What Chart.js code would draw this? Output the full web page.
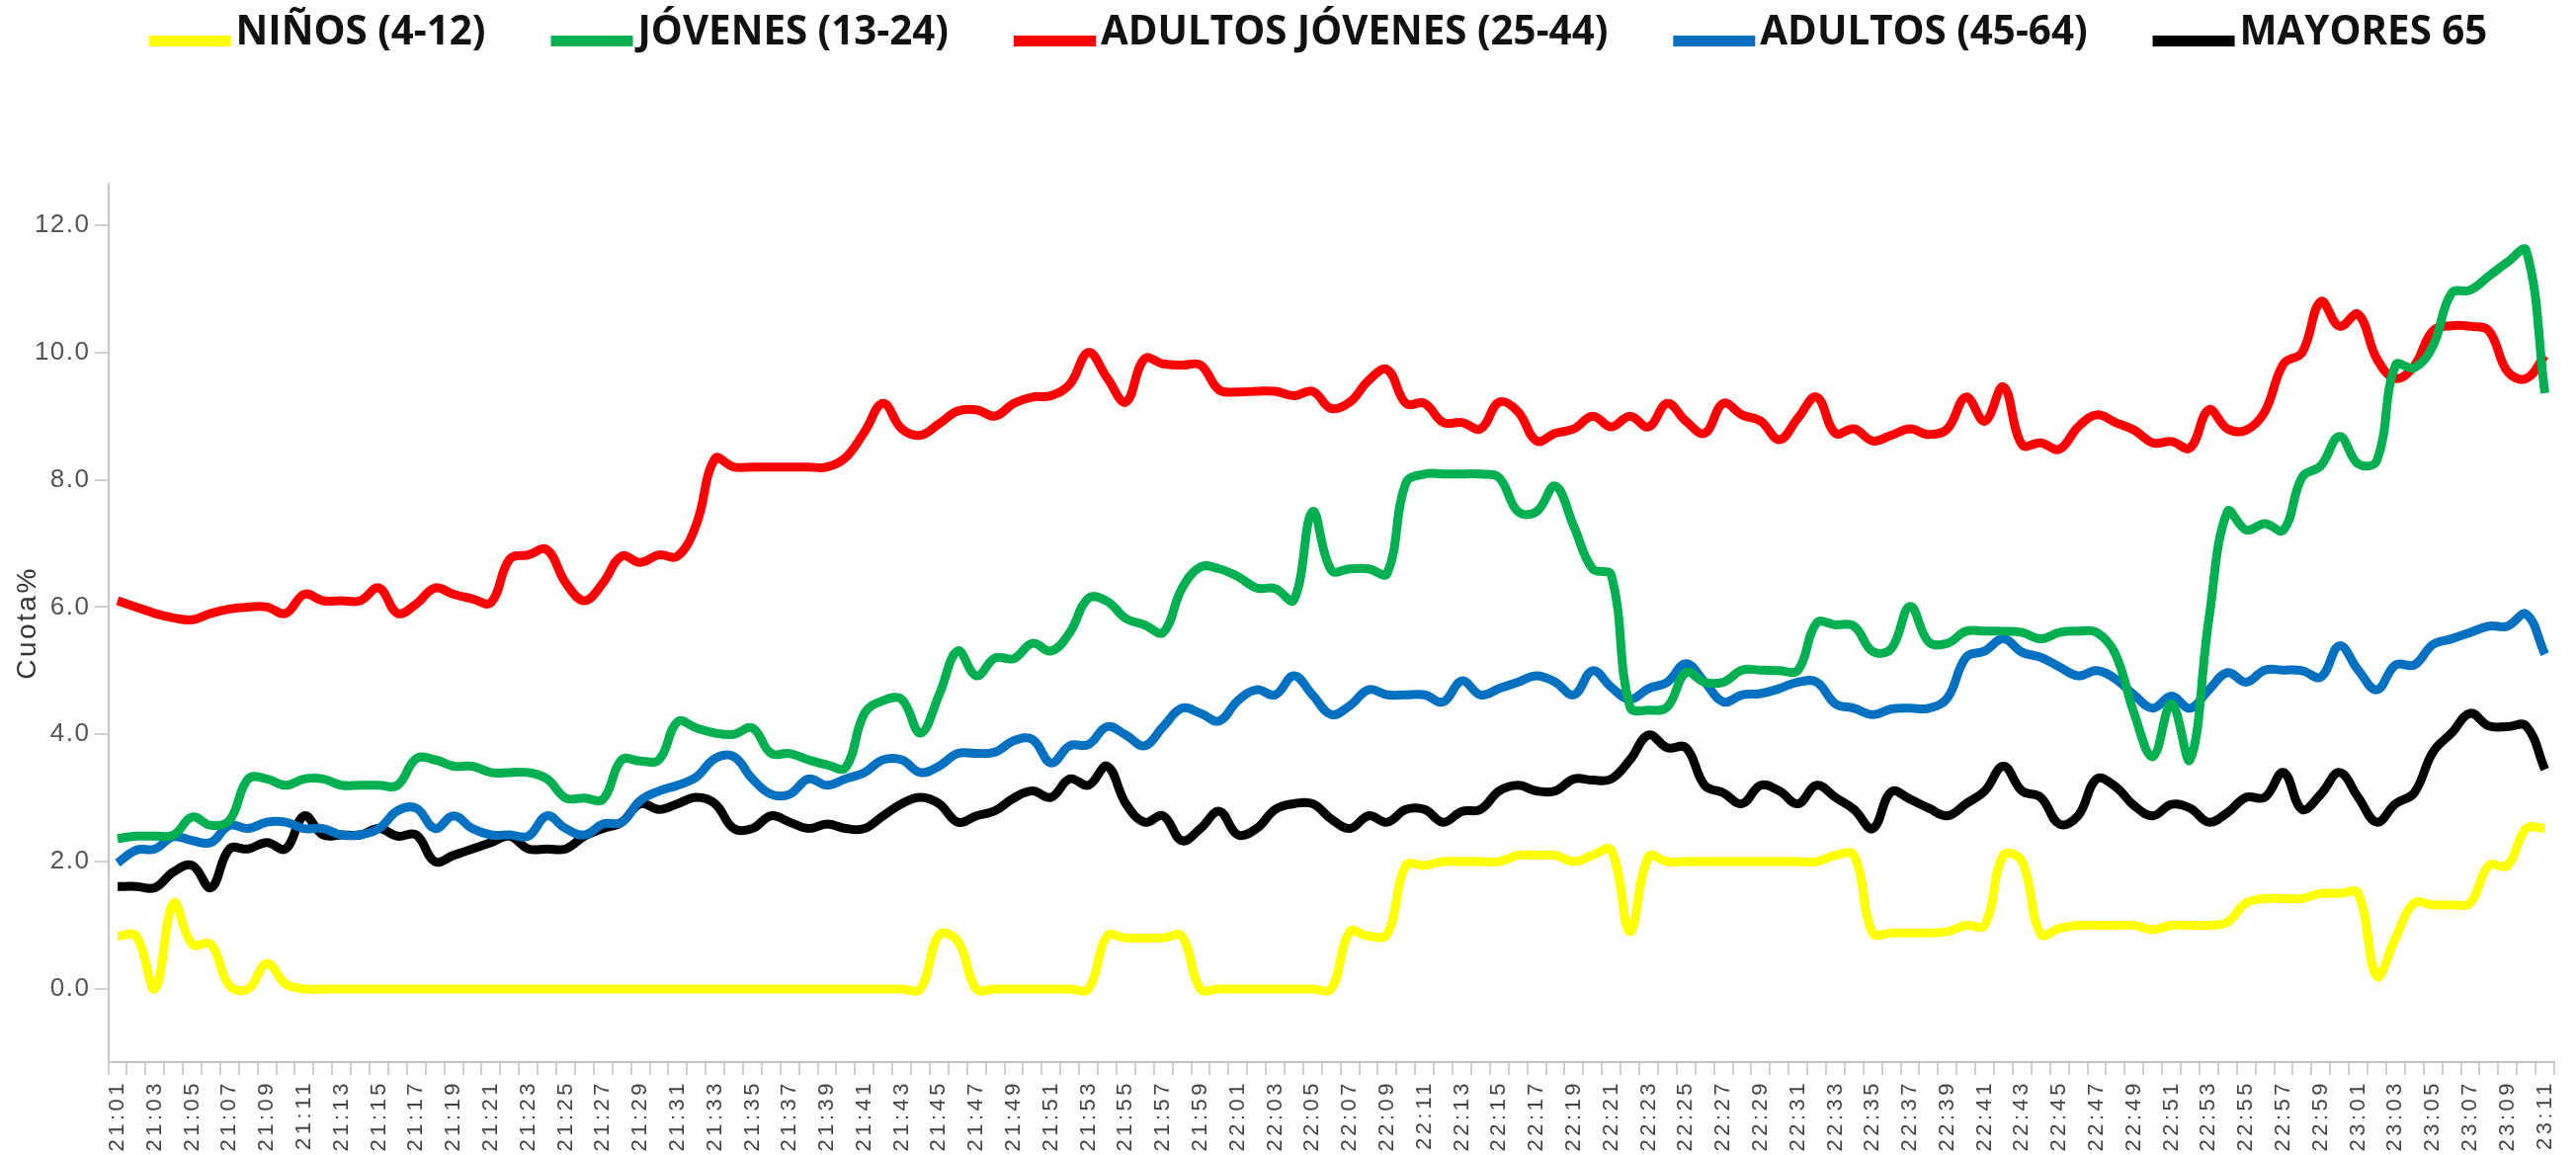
<!DOCTYPE html>
<html>
<head>
<meta charset="utf-8">
<script src="https://cdn.jsdelivr.net/npm/chart.js@4.4.1/dist/chart.umd.min.js"></script>
<style>
  html, body { margin: 0; padding: 0; background: #ffffff; }
  canvas { display: block; }
</style>
</head>
<body>
<canvas id="c" width="2607" height="1169"></canvas>
<script>
const categories = [
  "21:01","21:02","21:03","21:04","21:05","21:06","21:07","21:08","21:09","21:10",
  "21:11","21:12","21:13","21:14","21:15","21:16","21:17","21:18","21:19","21:20",
  "21:21","21:22","21:23","21:24","21:25","21:26","21:27","21:28","21:29","21:30",
  "21:31","21:32","21:33","21:34","21:35","21:36","21:37","21:38","21:39","21:40",
  "21:41","21:42","21:43","21:44","21:45","21:46","21:47","21:48","21:49","21:50",
  "21:51","21:52","21:53","21:54","21:55","21:56","21:57","21:58","21:59","22:00",
  "22:01","22:02","22:03","22:04","22:05","22:06","22:07","22:08","22:09","22:10",
  "22:11","22:12","22:13","22:14","22:15","22:16","22:17","22:18","22:19","22:20",
  "22:21","22:22","22:23","22:24","22:25","22:26","22:27","22:28","22:29","22:30",
  "22:31","22:32","22:33","22:34","22:35","22:36","22:37","22:38","22:39","22:40",
  "22:41","22:42","22:43","22:44","22:45","22:46","22:47","22:48","22:49","22:50",
  "22:51","22:52","22:53","22:54","22:55","22:56","22:57","22:58","22:59","23:00",
  "23:01","23:02","23:03","23:04","23:05","23:06","23:07","23:08","23:09","23:10",
  "23:11"
];

const seriesNames = ["NIÑOS (4-12)", "JÓVENES (13-24)", "ADULTOS JÓVENES (25-44)", "ADULTOS (45-64)", "MAYORES 65"];

const ninos = [
  0.83,0.83,0.0,1.35,0.7,0.7,0.05,0.0,0.4,0.08,
  0,0,0,0,0,0,0,0,0,0,
  0,0,0,0,0,0,0,0,0,0,
  0,0,0,0,0,0,0,0,0,0,
  0,0,0,0,0.85,0.75,0,0,0,0,
  0,0,0,0.83,0.8,0.8,0.8,0.83,0,0,
  0,0,0,0,0,0,0.9,0.83,0.86,1.94,
  1.94,2.0,2.0,2.0,2.0,2.1,2.1,2.1,2.0,2.1,
  2.18,0.9,2.08,2.0,2.0,2.0,2.0,2.0,2.0,2.0,
  2.0,2.0,2.1,2.1,0.88,0.88,0.88,0.88,0.9,1.0,
  1.0,2.1,2.0,0.86,0.95,1.0,1.0,1.0,1.0,0.93,
  1.0,1.0,1.0,1.05,1.35,1.42,1.42,1.42,1.5,1.5,
  1.5,0.2,0.8,1.35,1.32,1.32,1.35,1.94,1.94,2.52,2.52
];

const jovenes = [
  2.36,2.4,2.4,2.42,2.7,2.57,2.65,3.3,3.3,3.2,
  3.3,3.3,3.2,3.2,3.2,3.2,3.62,3.6,3.5,3.5,
  3.4,3.4,3.4,3.3,3.0,3.0,2.98,3.6,3.58,3.6,
  4.2,4.1,4.02,4.0,4.1,3.7,3.7,3.6,3.52,3.48,
  4.33,4.53,4.55,4.02,4.62,5.31,4.92,5.2,5.19,5.43,
  5.31,5.6,6.14,6.09,5.82,5.72,5.6,6.29,6.63,6.6,
  6.48,6.3,6.29,6.11,7.5,6.58,6.6,6.6,6.53,7.95,
  8.09,8.09,8.09,8.09,8.03,7.5,7.5,7.9,7.26,6.6,
  6.5,4.43,4.38,4.43,4.97,4.82,4.82,5.01,5.01,5.0,
  5.01,5.75,5.72,5.7,5.3,5.35,6.01,5.45,5.43,5.62,
  5.62,5.62,5.6,5.5,5.6,5.62,5.6,5.26,4.33,3.65,
  4.48,3.6,5.8,7.5,7.21,7.31,7.21,8.04,8.22,8.68,
  8.25,8.3,9.8,9.76,10.1,10.93,10.98,11.2,11.42,11.6,9.36
];

const adultosJovenes = [
  6.1,6.0,5.9,5.83,5.8,5.9,5.97,6.0,6.0,5.9,
  6.2,6.1,6.1,6.1,6.3,5.9,6.05,6.3,6.2,6.13,
  6.07,6.75,6.82,6.9,6.38,6.1,6.38,6.8,6.7,6.82,
  6.8,7.3,8.33,8.2,8.2,8.2,8.2,8.2,8.2,8.35,
  8.75,9.2,8.8,8.7,8.88,9.08,9.1,9.0,9.2,9.3,
  9.32,9.5,10.0,9.6,9.22,9.9,9.82,9.8,9.8,9.41,
  9.38,9.39,9.39,9.32,9.39,9.12,9.22,9.56,9.73,9.2,
  9.2,8.9,8.9,8.8,9.22,9.07,8.61,8.73,8.8,9.0,
  8.83,9.0,8.83,9.2,8.92,8.73,9.2,9.02,8.92,8.63,
  8.97,9.3,8.73,8.8,8.61,8.7,8.8,8.71,8.8,9.3,
  8.92,9.46,8.55,8.58,8.48,8.83,9.02,8.9,8.78,8.58,
  8.6,8.5,9.1,8.8,8.78,9.07,9.82,10.0,10.8,10.41,
  10.6,9.9,9.59,9.79,10.34,10.42,10.41,10.34,9.7,9.59,9.95
];

const adultos = [
  1.98,2.18,2.2,2.39,2.33,2.3,2.57,2.52,2.62,2.62,
  2.52,2.52,2.42,2.42,2.52,2.8,2.84,2.52,2.72,2.52,
  2.42,2.42,2.4,2.72,2.52,2.42,2.59,2.62,2.96,3.11,
  3.2,3.33,3.62,3.65,3.3,3.06,3.06,3.3,3.2,3.3,
  3.4,3.6,3.6,3.4,3.5,3.7,3.7,3.72,3.9,3.92,
  3.55,3.82,3.84,4.12,3.99,3.82,4.12,4.41,4.33,4.21,
  4.53,4.7,4.62,4.92,4.62,4.31,4.45,4.7,4.62,4.62,
  4.62,4.51,4.84,4.62,4.72,4.82,4.92,4.82,4.62,5.0,
  4.74,4.55,4.72,4.82,5.11,4.82,4.51,4.62,4.64,4.72,
  4.82,4.82,4.48,4.41,4.31,4.4,4.41,4.41,4.57,5.21,
  5.31,5.5,5.29,5.21,5.06,4.92,5.0,4.87,4.62,4.41,
  4.6,4.41,4.7,4.97,4.82,5.01,5.01,5.0,4.9,5.39,
  5.01,4.7,5.09,5.09,5.41,5.5,5.6,5.7,5.7,5.89,5.26
];

const mayores = [
  1.61,1.61,1.59,1.84,1.94,1.59,2.2,2.2,2.3,2.2,
  2.72,2.42,2.42,2.42,2.52,2.4,2.42,2.0,2.1,2.2,
  2.3,2.4,2.2,2.2,2.2,2.4,2.52,2.62,2.91,2.82,
  2.91,3.01,2.91,2.52,2.52,2.72,2.62,2.52,2.59,2.52,
  2.52,2.72,2.91,3.01,2.91,2.62,2.72,2.8,3.0,3.11,
  3.01,3.3,3.2,3.5,2.91,2.62,2.72,2.33,2.52,2.79,
  2.42,2.52,2.82,2.91,2.91,2.67,2.52,2.72,2.62,2.82,
  2.82,2.62,2.79,2.82,3.11,3.2,3.11,3.11,3.3,3.28,
  3.3,3.6,3.99,3.79,3.79,3.2,3.08,2.91,3.2,3.11,
  2.91,3.2,3.01,2.82,2.52,3.1,2.98,2.84,2.72,2.91,
  3.11,3.5,3.11,3.01,2.59,2.72,3.3,3.18,2.88,2.72,
  2.9,2.84,2.62,2.77,3.01,3.01,3.4,2.82,3.06,3.4,
  3.01,2.62,2.91,3.08,3.72,4.02,4.33,4.13,4.12,4.13,3.45
];

const yTicks = [0, 2, 4, 6, 8, 10, 12];
const yTitle = "Cuota%";

const seriesValues = [ninos, jovenes, adultosJovenes, adultos, mayores];
const seriesColors = ["#FFFF00", "#00B050", "#FF0000", "#0070C0", "#000000"];
const FONT = "'Liberation Sans', Arial, Helvetica, sans-serif";
const LEGEND_FONT = "'Open Sans', 'Liberation Sans', Arial, sans-serif";

const datasets = seriesNames.map((name, k) => ({
  label: name,
  data: seriesValues[k],
  borderColor: seriesColors[k],
  backgroundColor: seriesColors[k],
  borderWidth: 9,
  pointRadius: 0,
  pointHoverRadius: 0,
  tension: 0.4,
  fill: false,
  borderCapStyle: 'butt',
  borderJoinStyle: 'round'
}));

// Legend drawn at top, centered, with boxes and bold text
const topLegend = {
  id: 'topLegend',
  afterDraw(chart) {
    const ctx = chart.ctx;
    ctx.save();
    const ds = chart.data.datasets;
    ctx.font = "bold 100px " + LEGEND_FONT;
    const refW = ds.reduce((a, d) => a + ctx.measureText(d.label).width, 0);
    const size = 100 * 1663 / refW;
    ctx.font = "bold " + size.toFixed(2) + "px " + LEGEND_FONT;
    const boxW = 83, boxH = 11, gapBT = 5, gapItem = 66;
    const widths = ds.map(d => ctx.measureText(d.label).width);
    const total = widths.reduce((a, w) => a + boxW + gapBT + w, 0) + gapItem * (ds.length - 1);
    let x = 1334 - total / 2;
    const baseY = 45;
    ctx.textBaseline = 'alphabetic';
    ctx.textAlign = 'left';
    ds.forEach((d, i) => {
      ctx.fillStyle = d.borderColor;
      ctx.fillRect(x, 36, boxW, boxH);
      x += boxW + gapBT;
      ctx.fillStyle = '#111111';
      ctx.fillText(d.label, x, baseY);
      x += widths[i] + gapItem;
    });
    ctx.restore();
  }
};

// Letter spacing for axis texts (wraps the library's own axis drawing)
const axisSpacing = {
  id: 'axisSpacing',
  beforeDraw(chart) {
    const wrap = (scale, method, spacing) => {
      if (!scale || scale['_sp_' + method]) return;
      const orig = scale[method];
      scale[method] = function (...args) {
        const c = this.ctx;
        c.save();
        try { c.letterSpacing = spacing; } catch (e) {}
        const r = orig.apply(this, args);
        c.restore();
        return r;
      };
      scale['_sp_' + method] = true;
    };
    wrap(chart.scales.x, 'drawLabels', '3.5px');
    wrap(chart.scales.y, 'drawLabels', '1.5px');
    wrap(chart.scales.y, 'drawTitle', '2.5px');
  }
};

new Chart(document.getElementById('c'), {
  type: 'line',
  data: { labels: categories, datasets: datasets },
  options: {
    responsive: false,
    animation: false,
    devicePixelRatio: 1,
    layout: { padding: { top: 186, right: 15, bottom: 0, left: 0 } },
    plugins: {
      legend: { display: false },
      tooltip: { enabled: false },
      title: { display: false }
    },
    scales: {
      x: {
        type: 'category',
        offset: true,
        grid: { display: true, drawOnChartArea: false, drawTicks: true, tickLength: 13, color: '#d0d0d0', lineWidth: 2, offset: true },
        border: { display: true, color: '#c4c4c4', width: 2 },
        ticks: {
          autoSkip: false,
          maxRotation: 90,
          minRotation: 90,
          padding: 5,
          color: '#444444',
          font: { family: FONT, size: 22 },
          callback: (v, i) => (i % 2 === 0 ? categories[i] : '')
        },
        afterFit: (s) => { s.height = 94; }
      },
      y: {
        min: -1.15,
        max: 12.65,
        afterBuildTicks: (s) => { s.ticks = yTicks.map(v => ({ value: v })); },
        grid: { display: true, drawOnChartArea: false, drawTicks: true, tickLength: 14, color: '#d0d0d0', lineWidth: 2 },
        border: { display: true, color: '#c4c4c4', width: 2 },
        ticks: {
          padding: 4,
          color: '#555555',
          font: { family: FONT, size: 26 },
          callback: (v) => Number(v).toFixed(1)
        },
        title: {
          display: true,
          text: yTitle,
          color: '#333333',
          font: { family: FONT, size: 28 },
          padding: { top: 11, bottom: 0 }
        },
        afterFit: (s) => { s.width = 109.5; }
      }
    }
  },
  plugins: [topLegend, axisSpacing]
});
</script>
</body>
</html>
